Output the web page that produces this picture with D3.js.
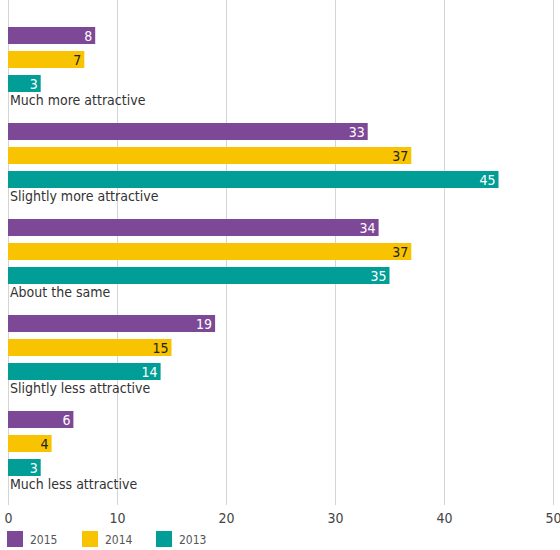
<!DOCTYPE html>
<html>
<head>
<meta charset="utf-8">
<script src="https://cdn.jsdelivr.net/npm/d3@7"></script>
<style>
  body { margin: 0; background: #fff; }
  text { font-family: "DejaVu Sans Condensed", "DejaVu Sans", sans-serif; }
</style>
</head>
<body>
<svg id="chart" width="560" height="550"></svg>
<script>
const categories = ["Much more attractive", "Slightly more attractive", "About the same", "Slightly less attractive", "Much less attractive"];
const seriesNames = ["2015", "2014", "2013"];
const values2015 = [8, 33, 34, 19, 6];
const values2014 = [7, 37, 37, 15, 4];
const values2013 = [3, 45, 35, 14, 3];
const tickValues = [0, 10, 20, 30, 40, 50];
const colors = ["#7d4896", "#f8c300", "#009e96"];
const labelColors = ["#ffffff", "#222222", "#ffffff"];

const seriesValues = [values2015, values2014, values2013];

const svg = d3.select("#chart");
const x = d3.scaleLinear().domain([0, 50]).range([8, 553]);
const groupY = d3.scaleBand().domain(categories).range([27, 507]).paddingInner(0).paddingOuter(0);
const barY = d3.scaleBand().domain(seriesNames).range([0, 65]).paddingInner(7 / 24).paddingOuter(0);

// vertical gridlines
svg.append("g").selectAll("line").data(tickValues).join("line")
  .attr("x1", d => x(d) + 0.5).attr("x2", d => x(d) + 0.5)
  .attr("y1", 0).attr("y2", 505)
  .attr("stroke", "#d4d4d4").attr("stroke-width", 1);

// axis tick labels
const axis = d3.axisBottom(x).tickValues(tickValues).tickSize(0).tickPadding(0);
const axisG = svg.append("g").attr("transform", "translate(0,513)").call(axis);
axisG.select(".domain").remove();
axisG.selectAll("text")
  .attr("font-size", 14).attr("fill", "#444")
  .attr("font-family", "DejaVu Sans Condensed, DejaVu Sans, sans-serif");

// bars
const groups = svg.append("g").selectAll("g").data(categories).join("g")
  .attr("transform", d => `translate(0,${groupY(d)})`);

seriesNames.forEach((s, si) => {
  groups.append("rect")
    .attr("x", x(0))
    .attr("y", barY(s))
    .attr("width", (d, i) => x(seriesValues[si][i]) - x(0))
    .attr("height", barY.bandwidth())
    .attr("fill", colors[si]);
  groups.append("text")
    .attr("x", (d, i) => x(seriesValues[si][i]) - 3)
    .attr("y", barY(s) + barY.bandwidth() / 2)
    .attr("dy", "0.36em")
    .attr("text-anchor", "end")
    .attr("font-size", 14)
    .attr("fill", labelColors[si])
    .text((d, i) => seriesValues[si][i]);
});

// category labels
groups.append("text")
  .attr("x", 10)
  .attr("y", 78)
  .attr("font-size", 14)
  .attr("fill", "#333")
  .text(d => d);

// legend
const legend = svg.append("g").attr("transform", "translate(0,531)");
const legendX = [7, 82, 156];
seriesNames.forEach((s, i) => {
  legend.append("rect").attr("x", legendX[i]).attr("y", 0).attr("width", 16).attr("height", 16).attr("fill", colors[i]);
  legend.append("text").attr("x", legendX[i] + 23).attr("y", 13).attr("font-size", 12).attr("fill", "#555").text(s);
});
</script>
</body>
</html>
